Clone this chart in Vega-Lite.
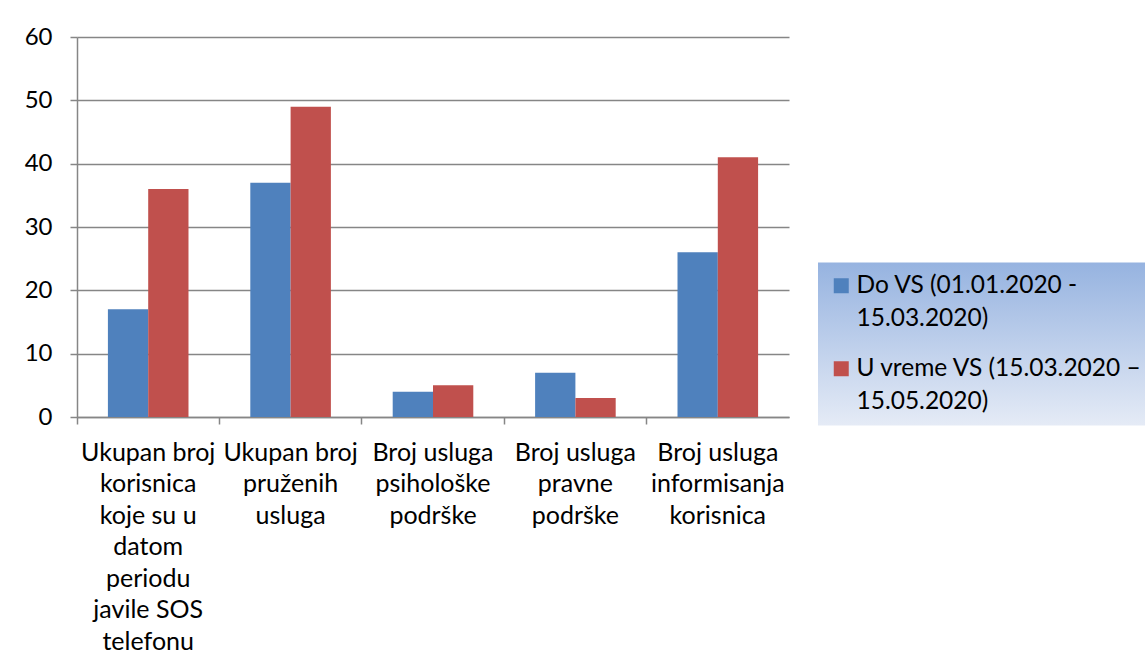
{
  "$schema": "https://vega.github.io/schema/vega-lite/v6.json",
  "autosize": "none",
  "width": 712,
  "height": 380,
  "padding": {"left": 77, "top": 37, "right": 356, "bottom": 255},
  "background": "white",
  "config": {
    "view": {"stroke": null},
    "font": "Lato"
  },
  "data": {
    "values": [
      {"kategorija": "Ukupan broj\nkorisnica\nkoje su u\ndatom\nperiodu\njavile SOS\ntelefonu", "period": "Do VS (01.01.2020  -\n15.03.2020)", "broj": 17},
      {"kategorija": "Ukupan broj\nkorisnica\nkoje su u\ndatom\nperiodu\njavile SOS\ntelefonu", "period": "U vreme VS (15.03.2020 –\n15.05.2020)", "broj": 36},
      {"kategorija": "Ukupan broj\npruženih\nusluga", "period": "Do VS (01.01.2020  -\n15.03.2020)", "broj": 37},
      {"kategorija": "Ukupan broj\npruženih\nusluga", "period": "U vreme VS (15.03.2020 –\n15.05.2020)", "broj": 49},
      {"kategorija": "Broj usluga\npsihološke\npodrške", "period": "Do VS (01.01.2020  -\n15.03.2020)", "broj": 4},
      {"kategorija": "Broj usluga\npsihološke\npodrške", "period": "U vreme VS (15.03.2020 –\n15.05.2020)", "broj": 5},
      {"kategorija": "Broj usluga\npravne\npodrške", "period": "Do VS (01.01.2020  -\n15.03.2020)", "broj": 7},
      {"kategorija": "Broj usluga\npravne\npodrške", "period": "U vreme VS (15.03.2020 –\n15.05.2020)", "broj": 3},
      {"kategorija": "Broj usluga\ninformisanja\nkorisnica", "period": "Do VS (01.01.2020  -\n15.03.2020)", "broj": 26},
      {"kategorija": "Broj usluga\ninformisanja\nkorisnica", "period": "U vreme VS (15.03.2020 –\n15.05.2020)", "broj": 41}
    ]
  },
  "mark": {"type": "bar"},
  "encoding": {
    "x": {
      "field": "kategorija",
      "type": "nominal",
      "sort": null,
      "scale": {"paddingInner": 0, "paddingOuter": 0},
      "axis": {
        "title": null,
        "bandPosition": 0,
        "labelExpr": "split(datum.label, '\\n')",
        "labelAngle": 0,
        "labelAlign": "center",
        "labelBaseline": "top",
        "labelFont": "Lato",
        "labelFontSize": 25,
        "labelLineHeight": 31.5,
        "labelColor": "#000000",
        "labelPadding": 16,
        "labelLimit": 300,
        "ticks": true,
        "tickSize": 7,
        "tickColor": "#868686",
        "tickWidth": 1.5,
        "domainColor": "#868686",
        "domainWidth": 1.5,
        "grid": false
      }
    },
    "xOffset": {
      "field": "period",
      "type": "nominal",
      "scale": {"paddingInner": 0, "paddingOuter": 0.767}
    },
    "y": {
      "field": "broj",
      "type": "quantitative",
      "scale": {"domain": [0, 60], "nice": false},
      "axis": {
        "title": null,
        "values": [0, 10, 20, 30, 40, 50, 60],
        "labelFont": "Lato",
        "labelFontSize": 24,
        "labelColor": "#000000",
        "labelPadding": 18,
        "tickSize": 7,
        "tickColor": "#868686",
        "tickWidth": 1.5,
        "domainColor": "#868686",
        "domainWidth": 1.5,
        "grid": true,
        "gridColor": "#868686",
        "gridWidth": 1.5
      }
    },
    "color": {
      "field": "period",
      "type": "nominal",
      "scale": {
        "domain": ["Do VS (01.01.2020  -\n15.03.2020)", "U vreme VS (15.03.2020 –\n15.05.2020)"],
        "range": ["#4f81bd", "#c0504d"]
      },
      "legend": {
        "title": null,
        "orient": "none",
        "legendX": 741,
        "legendY": 225.5,
        "padding": 11,
        "symbolType": "square",
        "symbolSize": 225,
        "symbolStrokeWidth": 0,
        "labelExpr": "split(datum.label, '\\n')",
        "labelFont": "Lato",
        "labelFontSize": 24.5,
        "labelColor": "#000000",
        "labelOffset": 3,
        "labelLimit": 400,
        "rowPadding": 24,
        "encode": {
          "labels": {
            "update": {
              "lineHeight": {"value": 33.5}
            }
          },
          "legend": {
            "update": {
              "fill": {"value": {"gradient": "linear", "x1": 0, "y1": 0, "x2": 0, "y2": 1, "stops": [{"offset": 0, "color": "#96b3e0"}, {"offset": 1, "color": "#e5ebf6"}]}}
            }
          }
        }
      }
    }
  }
}
